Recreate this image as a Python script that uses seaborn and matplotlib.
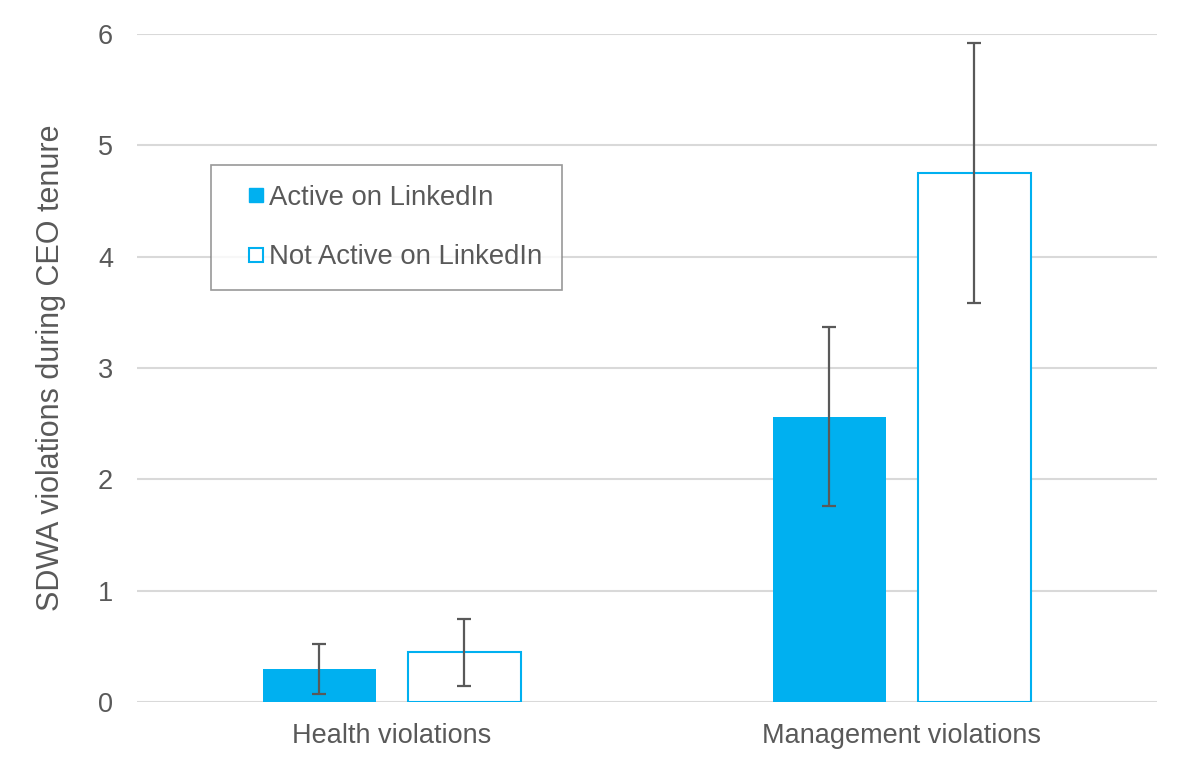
import pandas as pd
import matplotlib
matplotlib.use("Agg")
import matplotlib.pyplot as plt
import seaborn as sns
from matplotlib.lines import Line2D

# Values
categories = ["Health violations", "Management violations"]
groups = ["Active on LinkedIn", "Not Active on LinkedIn"]
active_vals = [0.30, 2.56]
not_active_vals = [0.45, 4.75]
active_err_low = [0.07, 1.76]
active_err_high = [0.52, 3.37]
not_active_err_low = [0.14, 3.58]
not_active_err_high = [0.75, 5.92]

blue = "#00B0F0"
grey = "#595959"

df = pd.DataFrame({
    "category": categories * 2,
    "group": [groups[0]] * 2 + [groups[1]] * 2,
    "value": active_vals + not_active_vals,
    "low": active_err_low + not_active_err_low,
    "high": active_err_high + not_active_err_high,
})

sns.set_style("white")
plt.rcParams["font.family"] = ["Liberation Sans", "DejaVu Sans"]

fig = plt.figure(figsize=(11.9, 7.7), dpi=100)
ax = fig.add_axes([0.115, 0.0883, 0.857, 0.8675])

sns.barplot(data=df, x="category", y="value", hue="group", hue_order=groups,
            palette=[blue, blue], saturation=1, width=0.57, gap=0.222,
            errorbar=None, legend=False, ax=ax, zorder=3)

# style the "not active" bars as outlined
for i, p in enumerate(ax.patches):
    if i >= 2:
        p.set_facecolor("white")
        p.set_edgecolor(blue)
        p.set_linewidth(1.5)
    else:
        p.set_edgecolor("none")

# error bars on the bar centres
for i, p in enumerate(ax.patches[:4]):
    row = df.iloc[i]
    xc = p.get_x() + p.get_width() / 2
    ax.errorbar([xc], [row["value"]],
                yerr=[[row["value"] - row["low"]], [row["high"] - row["value"]]],
                fmt="none", ecolor=grey, elinewidth=1.6, capsize=5, capthick=1.6, zorder=4)

ax.set_xlim(-0.5, 1.5)
ax.set_ylim(0, 6)
ax.set_yticks(range(7))
ax.grid(axis="y", color="#D9D9D9", linewidth=1.5, zorder=0)
for s in ax.spines.values():
    s.set_visible(False)
ax.tick_params(axis="both", length=0, labelsize=19.5, labelcolor=grey)
ax.tick_params(axis="x", pad=15)
ax.tick_params(axis="y", pad=17)
ax.set_xlabel("")
ax.set_ylabel("SDWA violations during CEO tenure", fontsize=22, color=grey, labelpad=23)

handles = [Line2D([], [], linestyle="none", marker="s", markersize=10,
                  markerfacecolor=blue, markeredgecolor=blue),
           Line2D([], [], linestyle="none", marker="s", markersize=9.5,
                  markerfacecolor="white", markeredgecolor=blue, markeredgewidth=1.5)]
leg = ax.legend(handles, groups, loc="upper left", bbox_to_anchor=(0.0725, 0.804),
                borderaxespad=0, fontsize=19.8, labelcolor=grey, frameon=True,
                fancybox=False, handlelength=1.82, handletextpad=-0.43,
                borderpad=0.72, labelspacing=1.22, edgecolor="#7F7F7F")
leg.get_frame().set_linewidth(1.2)

fig.savefig("out.png", dpi=100)
